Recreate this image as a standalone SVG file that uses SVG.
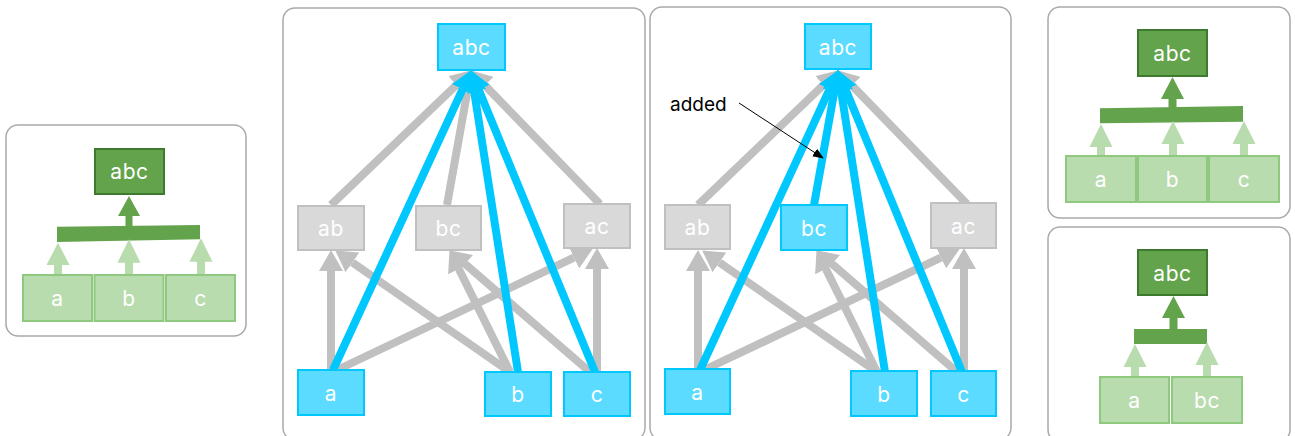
<svg xmlns="http://www.w3.org/2000/svg" width="1295" height="436" viewBox="0 0 1295 436">
<defs>
<style>
.panel{fill:#fff;stroke:#a9a9a9;stroke-width:1.5}
.cy{fill:#5adbff;stroke:#00c8ff;stroke-width:2}
.gr{fill:#d9d9d9;stroke:#c0c0c0;stroke-width:2}
.dg{fill:#62a34b;stroke:#3e7a2e;stroke-width:2}
.lg{fill:#b9dcaf;stroke:#8fc97f;stroke-width:2}
.t{font-family:Inter,"Liberation Sans",sans-serif;font-size:21px;letter-spacing:0.6px;fill:#fff;text-anchor:middle}
.ge{stroke:#c0c0c0;stroke-width:8;fill:none}
.ce{stroke:#00c8ff;stroke-width:8;fill:none}
.dgf{fill:#62a34b}
.lgf{fill:#b9dcaf}
</style>
<marker id="hg" markerUnits="userSpaceOnUse" markerWidth="21" markerHeight="24" viewBox="0 0 21 24" refX="0" refY="12" orient="auto"><path d="M0,0L21,12L0,24z" fill="#c0c0c0"/></marker>
<marker id="hc" markerUnits="userSpaceOnUse" markerWidth="21" markerHeight="24" viewBox="0 0 21 24" refX="0" refY="12" orient="auto"><path d="M0,0L21,12L0,24z" fill="#00c8ff"/></marker>
<marker id="hk" markerUnits="userSpaceOnUse" markerWidth="11" markerHeight="9" viewBox="0 0 11 9" refX="10" refY="4.5" orient="auto"><path d="M0,0L11,4.5L0,9z" fill="#000"/></marker>
</defs>
<rect width="1295" height="436" fill="#fff"/>
<g id="panels">
<rect class="panel" x="6" y="125" width="240" height="211" rx="12"/>
<rect class="panel" x="283" y="8" width="362" height="432" rx="12"/>
<rect class="panel" x="650" y="7" width="361" height="433" rx="12"/>
<rect class="panel" x="1048" y="7" width="242" height="211" rx="12"/>
<rect class="panel" x="1048" y="227" width="242" height="215" rx="12"/>
</g>

<g id="connectors">
<!-- panel 1 -->
<polygon class="dgf" points="57,226.7 200,225 200,239.3 57,242"/>
<path class="dgf" d="M125.5,228V216H118L129,196L140,216H132.5V228z"/>
<path class="lgf" d="M54,276V265H46.5L58,242.7L69.5,265H62V276z"/>
<path class="lgf" d="M125,276V262.7H117.5L129,239.3L140.5,262.7H133V276z"/>
<path class="lgf" d="M197,276V261.7H189.5L201,238.3L212.5,261.7H205V276z"/>
<!-- panel 2 -->
<g id="p2e">
<line class="ge" x1="331" y1="205" x2="456.55" y2="84.83" marker-end="url(#hg)"/>
<line class="ge" x1="447" y1="205" x2="467.47" y2="90.69" marker-end="url(#hg)"/>
<line class="ge" x1="600" y1="204" x2="484.92" y2="85.36" marker-end="url(#hg)"/>
<line class="ge" x1="331" y1="370" x2="331" y2="271" marker-end="url(#hg)"/>
<line class="ge" x1="510" y1="372" x2="352.42" y2="262.42" marker-end="url(#hg)"/>
<line class="ge" x1="337" y1="370" x2="573.93" y2="257.57" marker-end="url(#hg)"/>
<line class="ge" x1="510" y1="372" x2="458.88" y2="268.91" marker-end="url(#hg)"/>
<line class="ge" x1="590" y1="372" x2="465.14" y2="264.08" marker-end="url(#hg)"/>
<line class="ge" x1="597" y1="372" x2="597" y2="269" marker-end="url(#hg)"/>
<line class="ce" x1="333" y1="370" x2="462.62" y2="89.16" marker-end="url(#hc)"/>
<line class="ce" x1="518" y1="372" x2="474.09" y2="90.76" marker-end="url(#hc)"/>
<line class="ce" x1="595" y1="372" x2="478.62" y2="89.49" marker-end="url(#hc)"/>
</g>
<!-- panel 3 -->
<g id="p3e" transform="translate(367,0)">
<line class="ge" x1="331" y1="205" x2="456.55" y2="84.83" marker-end="url(#hg)"/>
<line class="ge" x1="600" y1="204" x2="484.92" y2="85.36" marker-end="url(#hg)"/>
<line class="ge" x1="331" y1="370" x2="331" y2="271" marker-end="url(#hg)"/>
<line class="ge" x1="510" y1="372" x2="352.42" y2="262.42" marker-end="url(#hg)"/>
<line class="ge" x1="337" y1="370" x2="573.93" y2="257.57" marker-end="url(#hg)"/>
<line class="ge" x1="510" y1="372" x2="458.88" y2="268.91" marker-end="url(#hg)"/>
<line class="ge" x1="590" y1="372" x2="465.14" y2="264.08" marker-end="url(#hg)"/>
<line class="ge" x1="597" y1="372" x2="597" y2="269" marker-end="url(#hg)"/>
<line class="ce" x1="447" y1="205" x2="467.47" y2="90.69" marker-end="url(#hc)"/>
<line class="ce" x1="333" y1="370" x2="462.62" y2="89.16" marker-end="url(#hc)"/>
<line class="ce" x1="518" y1="372" x2="474.09" y2="90.76" marker-end="url(#hc)"/>
<line class="ce" x1="595" y1="372" x2="478.62" y2="89.49" marker-end="url(#hc)"/>
</g>
<line x1="739" y1="103" x2="823" y2="158" stroke="#000" stroke-width="1" marker-end="url(#hk)"/>
<!-- panel 4 top -->
<polygon class="dgf" points="1100,108.3 1243,106 1243,121.7 1100,123.3"/>
<path class="dgf" d="M1168.5,108V99H1161L1172.5,77L1184,99H1176.5V108z"/>
<path class="lgf" d="M1097,157V147H1089.5L1101,124L1112.5,147H1105V157z"/>
<path class="lgf" d="M1169,157V144H1161.5L1173,121L1184.5,144H1177V157z"/>
<path class="lgf" d="M1240,157V144H1232.5L1244,121L1255.5,144H1248V157z"/>
<!-- panel 4 bottom -->
<rect class="dgf" x="1134" y="329" width="73" height="15"/>
<path class="dgf" d="M1169.5,330V318H1162L1173.5,296L1185,318H1177.5V330z"/>
<path class="lgf" d="M1131,378V367H1123.5L1135,344L1146.5,367H1139V378z"/>
<path class="lgf" d="M1203,378V365H1195.5L1207,342L1218.5,365H1211V378z"/>
</g>

<g id="p1-abc"><rect class="dg" x="95" y="149" width="69" height="45"/><text class="t" x="129.5" y="179">abc</text></g>
<g id="p1-a"><rect class="lg" x="23" y="275" width="69" height="46"/><text class="t" x="57.5" y="305.5">a</text></g>
<g id="p1-b"><rect class="lg" x="94.5" y="275" width="69" height="46"/><text class="t" x="129" y="305.5">b</text></g>
<g id="p1-c"><rect class="lg" x="166" y="275" width="69" height="46"/><text class="t" x="200.5" y="305.5">c</text></g>

<g id="p2-abc"><rect class="cy" x="438" y="24" width="67" height="46"/><text class="t" x="471.5" y="54.5">abc</text></g>
<g id="p2-ab"><rect class="gr" x="298" y="206" width="66" height="44"/><text class="t" x="331" y="235.5">ab</text></g>
<g id="p2-bc"><rect class="gr" x="416" y="206" width="65" height="44"/><text class="t" x="448.5" y="235.5">bc</text></g>
<g id="p2-ac"><rect class="gr" x="564" y="204" width="66" height="44"/><text class="t" x="597" y="233.5">ac</text></g>
<g id="p2-a"><rect class="cy" x="298" y="370" width="66" height="45"/><text class="t" x="331" y="400.5">a</text></g>
<g id="p2-b"><rect class="cy" x="485" y="372" width="66" height="44"/><text class="t" x="518" y="401.5">b</text></g>
<g id="p2-c"><rect class="cy" x="564" y="372" width="66" height="44"/><text class="t" x="597" y="401.5">c</text></g>

<g id="p3-abc"><rect class="cy" x="805" y="24" width="66" height="45"/><text class="t" x="838" y="54.5">abc</text></g>
<g id="p3-ab"><rect class="gr" x="665" y="205" width="65" height="44"/><text class="t" x="697.5" y="234.5">ab</text></g>
<g id="p3-bc"><rect class="cy" x="781" y="205" width="66" height="45"/><text class="t" x="814" y="235.5">bc</text></g>
<g id="p3-ac"><rect class="gr" x="931" y="203" width="65" height="45"/><text class="t" x="963.5" y="233.5">ac</text></g>
<g id="p3-a"><rect class="cy" x="665" y="369" width="65" height="45"/><text class="t" x="697.5" y="399.5">a</text></g>
<g id="p3-b"><rect class="cy" x="851" y="371" width="66" height="45"/><text class="t" x="884" y="401.5">b</text></g>
<g id="p3-c"><rect class="cy" x="931" y="371" width="65" height="45"/><text class="t" x="963.5" y="401.5">c</text></g>
<g id="p3-label"><text x="670" y="111" font-family="Inter,'Liberation Sans',sans-serif" font-size="19" fill="#000">added</text></g>

<g id="p4a-abc"><rect class="dg" x="1138" y="30" width="69" height="46"/><text class="t" x="1172.5" y="60.5">abc</text></g>
<g id="p4a-a"><rect class="lg" x="1066" y="156" width="70" height="46"/><text class="t" x="1101" y="186.5">a</text></g>
<g id="p4a-b"><rect class="lg" x="1138" y="156" width="69" height="46"/><text class="t" x="1172.5" y="186.5">b</text></g>
<g id="p4a-c"><rect class="lg" x="1209" y="156" width="70" height="46"/><text class="t" x="1244" y="186.5">c</text></g>

<g id="p4b-abc"><rect class="dg" x="1138" y="250" width="69" height="45"/><text class="t" x="1172.5" y="280.5">abc</text></g>
<g id="p4b-a"><rect class="lg" x="1100" y="377" width="69" height="46"/><text class="t" x="1134.5" y="407.5">a</text></g>
<g id="p4b-bc"><rect class="lg" x="1172" y="377" width="70" height="46"/><text class="t" x="1207" y="407.5">bc</text></g>
</svg>
